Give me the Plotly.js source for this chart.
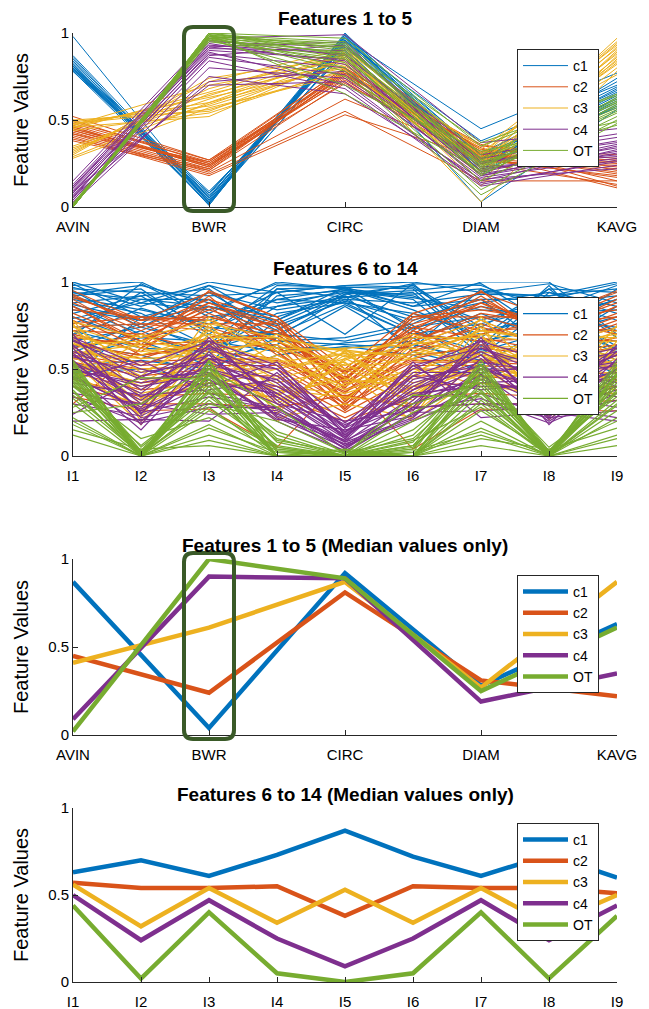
<!DOCTYPE html>
<html>
<head>
<meta charset="utf-8">
<script src="https://cdn.plot.ly/plotly-3.0.1.min.js"></script>
<style>html,body{margin:0;padding:0;background:#fff;}#chart{width:649px;height:1009px;}</style>
</head>
<body>
<div id="chart"></div>
<script>
// ---------- data ----------
const features1 = ['AVIN', 'BWR', 'CIRC', 'DIAM', 'KAVG'];
const features2 = ['I1', 'I2', 'I3', 'I4', 'I5', 'I6', 'I7', 'I8', 'I9'];
const clusters = ['c1', 'c2', 'c3', 'c4', 'OT'];
const yTickVals = [0, 0.5, 1];
const yTickText = ['0', '0.5', '1'];

// Features 1 to 5, individual samples [AVIN, BWR, CIRC, DIAM, KAVG]
const c1_f1 = [
  [0.98,0.02,0.99,0.30,0.72],[0.87,0.05,0.97,0.45,0.77],[0.85,0.03,0.95,0.38,0.70],
  [0.83,0.06,0.93,0.28,0.66],[0.82,0.01,1.00,0.25,0.62],[0.81,0.04,0.96,0.22,0.60],
  [0.80,0.08,0.92,0.27,0.68],[0.80,0.02,0.98,0.20,0.58],[0.79,0.06,0.94,0.24,0.64],
  [0.79,0.03,0.90,0.03,0.56],[0.78,0.07,0.97,0.26,0.74],[0.81,0.09,0.88,0.21,0.63],
  [0.82,0.04,0.95,0.29,0.67],[0.80,0.05,0.99,0.23,0.61],[0.78,0.02,0.91,0.18,0.59],
  [0.86,0.03,0.96,0.31,0.69],[0.79,0.08,0.93,0.27,0.57],[0.84,0.01,0.98,0.25,0.65]
];
const c2_f1 = [
  [0.52,0.27,0.80,0.33,0.28],[0.50,0.25,0.78,0.30,0.25],[0.48,0.26,0.77,0.28,0.22],
  [0.47,0.24,0.79,0.35,0.30],[0.46,0.23,0.76,0.31,0.20],[0.45,0.25,0.75,0.27,0.18],
  [0.44,0.22,0.78,0.33,0.15],[0.44,0.24,0.74,0.29,0.26],[0.43,0.21,0.72,0.25,0.13],
  [0.42,0.26,0.80,0.32,0.23],[0.42,0.20,0.62,0.30,0.11],[0.41,0.19,0.55,0.15,0.15],
  [0.40,0.18,0.53,0.28,0.17],[0.46,0.23,0.79,0.36,0.21],[0.39,0.22,0.76,0.34,0.12],
  [0.49,0.27,0.73,0.26,0.24],[0.38,0.21,0.77,0.31,0.19],[0.45,0.24,0.71,0.30,0.27]
];
const c3_f1 = [
  [0.50,0.55,0.85,0.25,0.97],[0.49,0.58,0.82,0.30,0.95],[0.48,0.60,0.88,0.22,0.92],
  [0.47,0.63,0.80,0.18,0.90],[0.46,0.52,0.86,0.28,0.88],[0.45,0.66,0.90,0.33,0.93],
  [0.47,0.70,0.84,0.15,0.85],[0.48,0.56,0.78,0.27,0.82],[0.35,0.62,0.87,0.20,0.80],
  [0.33,0.65,0.83,0.03,0.78],[0.32,0.68,0.89,0.24,0.86],[0.31,0.72,0.91,0.31,0.91],
  [0.30,0.74,0.86,0.26,0.84],[0.29,0.60,0.81,0.35,0.76],[0.28,0.57,0.76,0.21,0.89],
  [0.46,0.64,0.88,0.29,0.94],[0.34,0.59,0.85,0.12,0.87],[0.44,0.54,0.79,0.23,0.83]
];
const c4_f1 = [
  [0.15,0.97,0.99,0.37,0.45],[0.13,0.95,0.92,0.30,0.42],[0.12,0.93,0.88,0.25,0.38],
  [0.11,0.92,0.95,0.20,0.36],[0.10,0.90,0.85,0.18,0.35],[0.09,0.88,0.80,0.15,0.33],
  [0.08,0.91,0.90,0.22,0.30],[0.07,0.86,0.76,0.17,0.28],[0.06,0.89,0.70,0.14,0.26],
  [0.05,0.94,0.82,0.21,0.34],[0.04,0.84,0.68,0.12,0.24],[0.03,0.80,0.74,0.19,0.32],
  [0.02,0.75,0.65,0.16,0.22],[0.06,0.72,0.78,0.23,0.29],[0.09,0.70,0.72,0.13,0.27],
  [0.11,0.96,0.87,0.28,0.40],[0.04,0.87,0.93,0.26,0.37],[0.08,0.92,0.84,0.18,0.31]
];
const OT_f1 = [
  [0.00,1.00,0.97,0.35,0.65],[0.01,0.99,0.95,0.30,0.62],[0.00,0.98,0.93,0.27,0.60],
  [0.02,0.97,0.92,0.25,0.58],[0.00,0.99,0.90,0.22,0.63],[0.01,0.96,0.89,0.20,0.55],
  [0.00,0.98,0.88,0.28,0.61],[0.01,1.00,0.87,0.18,0.59],[0.00,0.95,0.85,0.24,0.57],
  [0.02,0.97,0.83,0.15,0.52],[0.00,0.99,0.80,0.10,0.50],[0.01,0.98,0.78,0.07,0.48],
  [0.00,0.96,0.75,0.26,0.47],[0.00,0.97,0.70,0.32,0.49],[0.01,0.99,0.65,0.21,0.56],
  [0.00,1.00,0.91,0.37,0.64],[0.01,0.98,0.94,0.23,0.60],[0.00,0.97,0.86,0.19,0.54]
];

// Features 6 to 14, individual samples [I1..I9]
const c1_f2 = [
  [1.00,0.88,1.00,0.94,0.98,1.00,0.94,0.92,1.00],[0.98,1.00,0.82,1.00,0.96,0.86,1.00,1.00,0.70],
  [0.95,0.74,0.94,0.72,0.93,0.98,0.74,0.96,0.94],[0.92,0.96,0.70,0.98,0.97,0.73,0.86,0.78,0.90],
  [0.90,0.82,0.63,0.86,0.91,0.94,0.61,0.94,0.82],[0.88,0.92,0.96,0.66,0.64,0.62,0.96,0.70,0.96],
  [0.86,0.70,0.58,0.92,0.95,0.90,0.58,0.86,0.63],[0.84,0.78,0.86,0.75,0.89,0.78,0.90,0.62,0.86],
  [0.80,0.66,0.52,0.96,0.97,0.96,0.63,0.98,0.58],[0.76,0.90,0.90,0.62,0.62,0.66,0.82,0.66,0.74],
  [0.72,0.62,0.60,0.82,0.88,0.82,0.70,0.82,0.61],[0.68,0.85,0.74,0.70,0.87,0.70,0.66,0.73,0.55],
  [0.64,0.58,0.47,0.78,0.94,0.75,0.52,0.75,0.52],[0.62,0.76,0.61,0.73,0.90,0.72,0.60,0.72,0.60],
  [0.60,0.72,0.55,0.64,0.86,0.64,0.55,0.60,0.50],[0.56,0.68,0.66,0.60,0.65,0.68,0.47,0.68,0.66],
  [0.52,0.55,0.50,0.68,0.92,0.60,0.50,0.64,0.47],[0.48,0.50,0.44,0.58,0.63,0.58,0.44,0.58,0.44],
  [0.45,0.80,0.78,0.90,0.96,0.92,0.78,0.90,0.78],[0.70,0.94,0.92,0.94,0.70,0.99,0.98,0.84,0.98],
  [0.97,0.86,0.98,0.88,0.94,0.93,0.96,0.88,0.92],[0.93,0.98,0.88,0.80,0.92,0.80,0.88,0.94,0.86],
  [0.91,0.84,0.76,0.94,0.98,0.97,0.72,0.80,0.74],[0.87,0.78,0.94,0.84,0.90,0.88,0.93,0.92,0.96],
  [0.82,0.92,0.68,0.70,0.66,0.74,0.80,0.70,0.80],[0.79,0.88,0.84,0.99,0.96,0.84,0.68,0.96,0.68],
  [0.74,0.76,0.98,0.76,0.93,0.95,0.99,0.76,0.90],[0.96,0.94,0.72,0.90,0.88,0.70,0.76,0.86,0.72],
  [0.99,0.80,0.90,0.66,0.68,0.76,0.94,0.99,0.88],[0.69,0.99,0.80,0.86,0.95,0.91,0.84,0.82,0.84],
  [0.66,0.74,0.64,0.96,0.91,0.99,0.66,0.74,0.62],[0.94,0.90,0.86,0.78,0.97,0.86,0.90,0.90,0.99]
];
const c2_f2 = [
  [0.95,0.78,0.94,0.80,0.50,0.82,0.94,0.80,0.95],[0.88,0.72,0.88,0.74,0.45,0.76,0.86,0.74,0.88],
  [0.82,0.66,0.80,0.70,0.42,0.70,0.92,0.68,0.82],[0.76,0.80,0.74,0.62,0.48,0.64,0.78,0.62,0.76],
  [0.70,0.60,0.86,0.58,0.40,0.60,0.70,0.78,0.70],[0.66,0.56,0.68,0.78,0.38,0.56,0.64,0.58,0.64],
  [0.62,0.70,0.60,0.56,0.36,0.72,0.58,0.56,0.58],[0.60,0.54,0.56,0.55,0.37,0.55,0.55,0.54,0.52],
  [0.58,0.52,0.54,0.54,0.34,0.54,0.54,0.52,0.51],[0.56,0.50,0.52,0.52,0.30,0.52,0.52,0.50,0.50],
  [0.54,0.46,0.50,0.50,0.28,0.50,0.50,0.46,0.48],[0.52,0.42,0.46,0.46,0.25,0.46,0.46,0.42,0.44],
  [0.48,0.38,0.42,0.40,0.22,0.40,0.42,0.38,0.40],[0.44,0.34,0.36,0.34,0.20,0.34,0.36,0.34,0.36],
  [0.40,0.30,0.30,0.28,0.35,0.28,0.30,0.30,0.32],[0.34,0.26,0.27,0.05,0.46,0.04,0.27,0.26,0.26],
  [0.30,0.62,0.82,0.66,0.44,0.80,0.80,0.70,0.86],[0.92,0.76,0.76,0.76,0.32,0.68,0.88,0.76,0.92],
  [0.86,0.64,0.92,0.60,0.27,0.62,0.74,0.64,0.78],[0.78,0.58,0.64,0.72,0.48,0.74,0.68,0.60,0.68],
  [0.93,0.74,0.90,0.78,0.47,0.78,0.90,0.72,0.90],[0.90,0.68,0.84,0.72,0.43,0.80,0.84,0.78,0.84],
  [0.84,0.80,0.78,0.66,0.49,0.72,0.95,0.66,0.80],[0.80,0.62,0.95,0.80,0.41,0.66,0.80,0.80,0.94],
  [0.74,0.76,0.72,0.60,0.33,0.60,0.76,0.62,0.74],[0.72,0.70,0.86,0.74,0.39,0.82,0.72,0.74,0.72],
  [0.68,0.64,0.66,0.68,0.29,0.70,0.66,0.68,0.66],[0.64,0.58,0.62,0.64,0.26,0.58,0.62,0.58,0.62],
  [0.91,0.78,0.80,0.70,0.44,0.74,0.88,0.70,0.86],[0.86,0.66,0.88,0.76,0.31,0.66,0.82,0.76,0.80]
];
const c3_f2 = [
  [0.78,0.33,0.62,0.46,0.62,0.26,0.80,0.40,0.58],[0.74,0.62,0.54,0.28,0.55,0.70,0.56,0.31,0.75],
  [0.70,0.22,0.76,0.35,0.58,0.42,0.50,0.66,0.52],[0.66,0.44,0.46,0.64,0.45,0.32,0.70,0.27,0.62],
  [0.62,0.30,0.70,0.24,0.61,0.56,0.44,0.52,0.47],[0.60,0.56,0.58,0.42,0.50,0.34,0.64,0.36,0.70],
  [0.58,0.26,0.80,0.52,0.54,0.24,0.55,0.60,0.50],[0.57,0.40,0.50,0.20,0.42,0.46,0.74,0.23,0.66],
  [0.56,0.70,0.55,0.70,0.57,0.62,0.54,0.70,0.55],[0.55,0.18,0.66,0.34,0.60,0.28,0.60,0.34,0.49],
  [0.54,0.36,0.44,0.58,0.38,0.50,0.46,0.46,0.45],[0.52,0.50,0.52,0.30,0.53,0.35,0.52,0.25,0.40],
  [0.50,0.32,0.42,0.38,0.34,0.30,0.42,0.33,0.60],[0.48,0.24,0.74,0.26,0.56,0.38,0.66,0.29,0.43],
  [0.46,0.28,0.48,0.32,0.48,0.20,0.48,0.44,0.38],[0.44,0.66,0.60,0.66,0.52,0.66,0.58,0.56,0.72],
  [0.76,0.20,0.56,0.22,0.30,0.22,0.76,0.21,0.51],[0.68,0.34,0.40,0.50,0.59,0.52,0.40,0.38,0.36],
  [0.77,0.68,0.78,0.60,0.62,0.64,0.78,0.62,0.74],[0.72,0.52,0.68,0.68,0.60,0.58,0.72,0.68,0.68],
  [0.69,0.60,0.64,0.44,0.56,0.68,0.68,0.48,0.64],[0.65,0.46,0.72,0.62,0.61,0.44,0.62,0.64,0.70],
  [0.63,0.38,0.60,0.36,0.44,0.40,0.58,0.42,0.56],[0.59,0.64,0.56,0.56,0.40,0.60,0.54,0.58,0.53],
  [0.53,0.42,0.62,0.40,0.36,0.48,0.64,0.50,0.59],[0.51,0.58,0.70,0.62,0.32,0.64,0.70,0.64,0.66],
  [0.75,0.48,0.66,0.54,0.59,0.36,0.60,0.54,0.62],[0.64,0.66,0.76,0.68,0.50,0.56,0.72,0.66,0.57]
];
const c4_f2 = [
  [0.70,0.24,0.68,0.30,0.20,0.26,0.66,0.22,0.64],[0.66,0.50,0.40,0.54,0.12,0.48,0.48,0.52,0.40],
  [0.62,0.18,0.60,0.22,0.05,0.28,0.68,0.18,0.56],[0.58,0.34,0.52,0.44,0.16,0.36,0.40,0.40,0.48],
  [0.55,0.22,0.30,0.26,0.08,0.22,0.56,0.24,0.32],[0.52,0.28,0.64,0.34,0.10,0.52,0.30,0.30,0.60],
  [0.50,0.40,0.47,0.20,0.03,0.24,0.47,0.20,0.44],[0.48,0.15,0.56,0.50,0.14,0.30,0.62,0.46,0.52],
  [0.46,0.26,0.44,0.24,0.09,0.44,0.52,0.26,0.38],[0.44,0.55,0.36,0.28,0.06,0.20,0.36,0.23,0.46],
  [0.40,0.20,0.50,0.40,0.18,0.34,0.44,0.34,0.28],[0.36,0.30,0.24,0.25,0.02,0.25,0.26,0.28,0.22],
  [0.30,0.23,0.42,0.36,0.11,0.40,0.58,0.21,0.50],[0.24,0.46,0.58,0.23,0.07,0.21,0.42,0.44,0.58],
  [0.20,0.21,0.20,0.48,0.13,0.54,0.22,0.25,0.20],[0.54,0.36,0.66,0.32,0.04,0.32,0.64,0.36,0.62],
  [0.64,0.25,0.34,0.27,0.09,0.27,0.33,0.19,0.36],[0.60,0.44,0.48,0.21,0.15,0.23,0.50,0.50,0.42],
  [0.68,0.52,0.66,0.52,0.19,0.50,0.66,0.54,0.62],[0.63,0.38,0.62,0.46,0.17,0.46,0.60,0.42,0.58],
  [0.57,0.48,0.54,0.38,0.14,0.42,0.54,0.48,0.54],[0.53,0.32,0.58,0.42,0.11,0.38,0.58,0.32,0.50],
  [0.49,0.42,0.50,0.34,0.08,0.34,0.50,0.38,0.46],[0.45,0.27,0.46,0.30,0.06,0.30,0.46,0.28,0.40],
  [0.42,0.35,0.38,0.44,0.10,0.46,0.38,0.42,0.34],[0.34,0.19,0.28,0.28,0.04,0.28,0.30,0.22,0.26],
  [0.67,0.45,0.63,0.50,0.16,0.52,0.62,0.50,0.60],[0.59,0.30,0.56,0.36,0.12,0.38,0.52,0.33,0.54]
];
const OT_f2 = [
  [0.55,0.00,0.52,0.00,0.00,0.02,0.55,0.00,0.55],[0.52,0.02,0.46,0.10,0.00,0.00,0.48,0.02,0.50],
  [0.50,0.00,0.55,0.02,0.01,0.30,0.42,0.00,0.46],[0.48,0.05,0.36,0.00,0.00,0.06,0.50,0.03,0.40],
  [0.46,0.00,0.42,0.05,0.00,0.00,0.36,0.00,0.38],[0.45,0.01,0.30,0.20,0.02,0.10,0.44,0.01,0.42],
  [0.44,0.02,0.40,0.00,0.00,0.05,0.40,0.02,0.37],[0.42,0.00,0.48,0.08,0.00,0.00,0.30,0.00,0.30],
  [0.40,0.10,0.22,0.03,0.00,0.15,0.46,0.05,0.34],[0.38,0.00,0.44,0.00,0.04,0.00,0.20,0.00,0.26],
  [0.35,0.03,0.34,0.06,0.00,0.08,0.52,0.00,0.48],[0.30,0.00,0.12,0.00,0.00,0.00,0.26,0.02,0.20],
  [0.25,0.30,0.50,0.28,0.01,0.35,0.34,0.00,0.12],[0.20,0.00,0.26,0.04,0.00,0.03,0.14,0.01,0.52],
  [0.15,0.04,0.06,0.00,0.00,0.00,0.06,0.00,0.06],[0.12,0.00,0.38,0.12,0.00,0.20,0.38,0.00,0.32],
  [0.53,0.00,0.18,0.00,0.03,0.00,0.10,0.04,0.16],[0.28,0.45,0.44,0.05,0.00,0.04,0.48,0.00,0.44],
  [0.54,0.00,0.54,0.03,0.00,0.04,0.53,0.00,0.53],[0.51,0.03,0.50,0.00,0.00,0.12,0.50,0.01,0.50],
  [0.49,0.00,0.47,0.14,0.01,0.00,0.46,0.00,0.47],[0.47,0.02,0.44,0.00,0.00,0.25,0.44,0.03,0.44],
  [0.43,0.00,0.40,0.09,0.02,0.00,0.42,0.00,0.42],[0.41,0.06,0.37,0.00,0.00,0.06,0.37,0.00,0.40],
  [0.37,0.00,0.32,0.04,0.00,0.00,0.32,0.02,0.36],[0.33,0.01,0.28,0.00,0.00,0.09,0.28,0.00,0.29],
  [0.22,0.00,0.16,0.02,0.00,0.00,0.16,0.00,0.22],[0.18,0.00,0.09,0.00,0.00,0.02,0.12,0.00,0.10]
];

// Median values
const c1_med1 = [0.87, 0.04, 0.92, 0.28, 0.63];
const c2_med1 = [0.45, 0.24, 0.81, 0.31, 0.22];
const c3_med1 = [0.41, 0.61, 0.87, 0.27, 0.87];
const c4_med1 = [0.09, 0.90, 0.89, 0.19, 0.35];
const OT_med1 = [0.02, 1.00, 0.89, 0.25, 0.61];

const c1_med2 = [0.63, 0.70, 0.61, 0.73, 0.87, 0.72, 0.61, 0.73, 0.60];
const c2_med2 = [0.57, 0.54, 0.54, 0.55, 0.38, 0.55, 0.54, 0.54, 0.51];
const c3_med2 = [0.56, 0.32, 0.54, 0.34, 0.53, 0.34, 0.54, 0.33, 0.50];
const c4_med2 = [0.50, 0.24, 0.47, 0.25, 0.09, 0.25, 0.47, 0.24, 0.44];
const OT_med2 = [0.44, 0.02, 0.40, 0.05, 0.00, 0.05, 0.40, 0.02, 0.38];

// ---------- styling ----------
const colors = ['#0072BD', '#D95319', '#EDB120', '#7E2F8E', '#77AC30'];
const FONT = 'Liberation Sans, Arial, Helvetica, sans-serif';
const W = 649, H = 1009, L = 73, R = 32;
// pixel rows of each panel: [top (y=1), bottom (y=0)]
const panels = [[33, 207], [282, 456], [559, 735], [808, 982]];
const titleY = [18, 269, 545, 794];
const legendTop = [49, 297, 575, 823];
const titles = ['Features 1 to 5', 'Features 6 to 14',
                'Features 1 to 5 (Median values only)', 'Features 6 to 14 (Median values only)'];

const samples1 = [c1_f1, c2_f1, c3_f1, c4_f1, OT_f1];
const samples2 = [c1_f2, c2_f2, c3_f2, c4_f2, OT_f2];
const medians1 = [c1_med1, c2_med1, c3_med1, c4_med1, OT_med1];
const medians2 = [c1_med2, c2_med2, c3_med2, c4_med2, OT_med2];

function multiLine(rows) {
  const x = [], y = [];
  rows.forEach(r => { r.forEach((v, i) => { x.push(i); y.push(v); }); x.push(null); y.push(null); });
  return {x, y};
}

const traces = [];
function addPanel(idx, sets, isMedian, width) {
  const ax = idx === 0 ? '' : String(idx + 1);
  sets.forEach((s, k) => {
    const d = isMedian ? {x: s.map((_, i) => i), y: s} : multiLine(s);
    traces.push({
      type: 'scatter', mode: 'lines', x: d.x, y: d.y,
      xaxis: 'x' + ax, yaxis: 'y' + ax,
      name: clusters[k], legend: 'legend' + ax,
      line: {color: colors[k], width: width},
      connectgaps: false, hoverinfo: 'skip'
    });
  });
}
addPanel(0, samples1, false, 1);
addPanel(1, samples2, false, 1.2);
addPanel(2, medians1, true, 4.5);
addPanel(3, medians2, true, 4.5);

const layout = {
  width: W, height: H,
  margin: {l: L, r: R, t: 0, b: 0},
  paper_bgcolor: '#fff', plot_bgcolor: '#fff',
  font: {family: FONT, color: '#000'},
  showlegend: true,
  annotations: [], shapes: []
};
const featSets = [features1, features2, features1, features2];
panels.forEach((p, i) => {
  const ax = i === 0 ? '' : String(i + 1);
  const feats = featSets[i];
  layout['xaxis' + ax] = {
    anchor: 'y' + ax, domain: [0, 1], range: [0, feats.length - 1],
    tickmode: 'array', tickvals: feats.map((_, j) => j), ticktext: feats,
    ticks: 'inside', ticklen: 5, tickcolor: '#262626', tickwidth: 1,
    showline: true, linecolor: '#262626', linewidth: 1,
    showgrid: false, zeroline: false, fixedrange: true,
    ticklabelstandoff: 6,
    tickfont: {size: 15, family: FONT, color: '#000'}
  };
  layout['yaxis' + ax] = {
    anchor: 'x' + ax, domain: [1 - p[1] / H, 1 - p[0] / H], range: [0, 1],
    tickmode: 'array', tickvals: yTickVals, ticktext: yTickText,
    ticks: 'inside', ticklen: 5, tickcolor: '#262626', tickwidth: 1,
    showline: true, linecolor: '#262626', linewidth: 1,
    showgrid: false, zeroline: false, fixedrange: true,
    tickfont: {size: 15, family: FONT, color: '#000'},
    title: {text: 'Feature Values', font: {size: 20, family: FONT, color: '#000'}, standoff: 14}
  };
  layout.annotations.push({
    text: '<b>' + titles[i] + '</b>', xref: 'paper', yref: 'paper',
    x: 0.5, y: 1 - titleY[i] / H, xanchor: 'center', yanchor: 'middle',
    showarrow: false, font: {size: 19, family: FONT, color: '#000'}
  });
  layout['legend' + ax] = {
    x: (517 - L) / (W - L - R), y: 1 - legendTop[i] / H, xanchor: 'left', yanchor: 'top',
    xref: 'paper', yref: 'paper',
    bgcolor: '#fff', bordercolor: '#262626', borderwidth: 1,
    font: {size: 14, family: FONT, color: '#000'},
    tracegroupgap: 0, itemwidth: 45, traceorder: 'normal'
  };
});

// highlight boxes around BWR in the feature 1-5 panels
function roundedRect(x0, x1, y0, y1, rx, ry) {
  return `M${x0 + rx},${y0} L${x1 - rx},${y0} Q${x1},${y0} ${x1},${y0 + ry} ` +
         `L${x1},${y1 - ry} Q${x1},${y1} ${x1 - rx},${y1} L${x0 + rx},${y1} ` +
         `Q${x0},${y1} ${x0},${y1 - ry} L${x0},${y0 + ry} Q${x0},${y0} ${x0 + rx},${y0} Z`;
}
[0, 2].forEach(i => {
  const ax = i === 0 ? '' : String(i + 1);
  const c = features1.indexOf('BWR') / (features1.length - 1);
  const hw = 25 / (W - L - R);
  const ph = panels[i][1] - panels[i][0];
  const y0 = -4 / ph, y1 = 1 + 6 / ph;
  layout.shapes.push({
    type: 'path', xref: 'x' + ax + ' domain', yref: 'y' + ax + ' domain',
    path: roundedRect(c - hw, c + hw, y0, y1, 9 / (W - L - R), 9 / ph),
    line: {color: '#3a5a28', width: 4}, fillcolor: 'rgba(0,0,0,0)', layer: 'above'
  });
});

Plotly.newPlot('chart', traces, layout, {displayModeBar: false, staticPlot: true});
</script>
</body>
</html>
